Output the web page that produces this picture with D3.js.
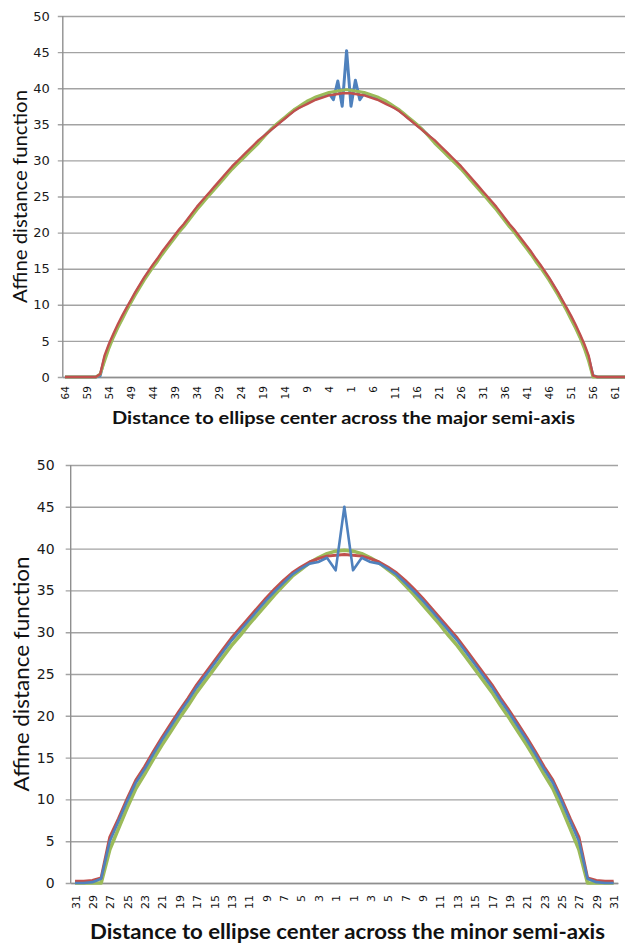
<!DOCTYPE html>
<html>
<head>
<meta charset="utf-8">
<script src="https://cdn.jsdelivr.net/npm/d3@7"></script>
<style>
  body { margin: 0; background: #fff; }
  svg { display: block; }
</style>
</head>
<body>
<script>
// Categories: distance to center, left half then right half
const majorCategories = [64,63,62,61,60,59,58,57,56,55,54,53,52,51,50,49,48,47,46,45,44,43,42,41,40,39,38,37,36,35,34,33,32,31,30,29,28,27,26,25,24,23,22,21,20,19,18,17,16,15,14,13,12,11,10,9,8,7,6,5,4,3,2,1,
  0,
  1,2,3,4,5,6,7,8,9,10,11,12,13,14,15,16,17,18,19,20,21,22,23,24,25,26,27,28,29,30,31,32,33,34,35,36,37,38,39,40,41,42,43,44,45,46,47,48,49,50,51,52,53,54,55,56,57,58,59,60,61,62,63,64];

const majorGreen = [0,0,0,0,0,0,0,0,
  0.4,2.2,4.0,5.5,6.8,8.0,9.2,10.3,11.4,12.4,13.4,14.3,15.2,16.0,16.9,17.7,18.5,19.3,20.1,20.8,21.6,22.4,23.2,23.9,24.6,25.3,26.0,26.7,27.4,28.1,28.8,29.4,30.0,30.6,31.2,31.8,32.4,33.1,33.8,34.4,35.0,35.5,36.0,36.5,37.0,37.4,37.8,38.2,38.5,38.8,39.0,39.2,39.4,39.5,39.6,39.7,
  39.8,
  39.7,39.6,39.5,39.4,39.2,39.0,38.8,38.5,38.2,37.8,37.4,37.0,36.5,36.0,35.5,35.0,34.4,33.8,33.1,32.4,31.8,31.2,30.6,30.0,29.4,28.8,28.1,27.4,26.7,26.0,25.3,24.6,23.9,23.2,22.4,21.6,20.8,20.1,19.3,18.5,17.7,16.9,16.0,15.2,14.3,13.4,12.4,11.4,10.3,9.2,8.0,6.8,5.5,4.0,2.2,0.0,
  0,0,0,0,0,0,0,0];

const majorRed = [0,0,0,0,0,0,0,0,
  0.4,3.0,4.6,6.0,7.3,8.5,9.6,10.7,11.8,12.8,13.8,14.7,15.6,16.4,17.3,18.1,18.9,19.7,20.5,21.2,22.0,22.8,23.6,24.3,25.0,25.7,26.4,27.1,27.8,28.5,29.2,29.8,30.4,31.0,31.6,32.2,32.8,33.3,33.8,34.3,34.8,35.3,35.8,36.3,36.8,37.2,37.5,37.8,38.1,38.4,38.6,38.8,39.0,39.1,39.2,39.3,
  39.3,
  39.3,39.2,39.1,39.0,38.8,38.6,38.4,38.1,37.8,37.5,37.2,36.8,36.3,35.8,35.3,34.8,34.3,33.8,33.3,32.8,32.2,31.6,31.0,30.4,29.8,29.2,28.5,27.8,27.1,26.4,25.7,25.0,24.3,23.6,22.8,22.0,21.2,20.5,19.7,18.9,18.1,17.3,16.4,15.6,14.7,13.8,12.8,11.8,10.7,9.6,8.5,7.3,6.0,4.6,3.0,0.2,
  0,0,0,0,0,0,0,0];

const majorBlue = [0,0,0,0,0,0,0,0,
  0.2,2.6,4.3,5.7,7.0,8.2,9.4,10.5,11.6,12.6,13.6,14.5,15.4,16.2,17.1,17.9,18.7,19.5,20.3,21.0,21.8,22.6,23.4,24.1,24.8,25.5,26.2,26.9,27.6,28.3,29.0,29.6,30.2,30.8,31.4,32.0,32.6,33.2,33.8,34.4,34.9,35.4,35.9,36.4,36.9,37.3,37.6,38.0,38.3,38.6,38.8,39.0,39.3,38.4,41.0,37.5,
  45.2,
  37.5,41.1,38.4,39.3,39.0,38.8,38.6,38.3,38.0,37.6,37.3,36.9,36.4,35.9,35.4,34.9,34.4,33.8,33.2,32.6,32.0,31.4,30.8,30.2,29.6,29.0,28.3,27.6,26.9,26.2,25.5,24.8,24.1,23.4,22.6,21.8,21.0,20.3,19.5,18.7,17.9,17.1,16.2,15.4,14.5,13.6,12.6,11.6,10.5,9.4,8.2,7.0,5.7,4.3,2.6,0.2,
  0,0,0,0,0,0,0,0];

const minorCategories = [31,30,29,28,27,26,25,24,23,22,21,20,19,18,17,16,15,14,13,12,11,10,9,8,7,6,5,4,3,2,1,
  0,
  1,2,3,4,5,6,7,8,9,10,11,12,13,14,15,16,17,18,19,20,21,22,23,24,25,26,27,28,29,30,31];

const minorGreen = [0,0,0,0,4.0,6.5,9.0,11.3,13.0,14.8,16.5,18.1,19.7,21.2,22.8,24.2,25.6,27.0,28.4,29.6,30.9,32.1,33.3,34.5,35.6,36.7,37.5,38.3,38.9,39.4,39.7,
  39.8,
  39.7,39.4,38.9,38.3,37.5,36.7,35.6,34.5,33.3,32.1,30.9,29.6,28.4,27.0,25.6,24.2,22.8,21.2,19.7,18.1,16.5,14.8,13.0,11.3,9.0,6.5,4.0,0,0,0,0];

const minorRed = [0.2,0.2,0.3,0.6,5.5,7.7,10.1,12.3,13.9,15.7,17.4,19.0,20.6,22.1,23.7,25.1,26.5,27.9,29.3,30.5,31.7,32.9,34.1,35.2,36.2,37.1,37.8,38.4,38.8,39.1,39.2,
  39.3,
  39.2,39.1,38.8,38.4,37.8,37.1,36.2,35.2,34.1,32.9,31.7,30.5,29.3,27.9,26.5,25.1,23.7,22.1,20.6,19.0,17.4,15.7,13.9,12.3,10.1,7.7,5.5,0.6,0.3,0.2,0.2];

const minorBlue = [0,0,0.1,0.5,5.0,7.4,9.8,12.0,13.6,15.4,17.1,18.7,20.3,21.8,23.4,24.8,26.2,27.6,29.0,30.2,31.4,32.6,33.8,34.9,35.9,36.9,37.6,38.2,38.4,38.9,37.4,
  45.0,
  37.4,38.9,38.4,38.2,37.6,36.9,35.9,34.9,33.8,32.6,31.4,30.2,29.0,27.6,26.2,24.8,23.4,21.8,20.3,18.7,17.1,15.4,13.6,12.0,9.8,7.4,5.0,0.5,0.1,0,0];

const yTicks = [0,5,10,15,20,25,30,35,40,45,50];
const yTitle = "Affine distance function";

const width = 625, height = 946;

const svg = d3.select("body").append("svg")
    .attr("width", width)
    .attr("height", height);

const drawPanel = (p) => {
    const g = svg.append("g");

    const x = d3.scalePoint()
        .domain(p.categories.map((d, i) => i))
        .range([p.left, p.right])
        .padding(0.5);
    const y = d3.scaleLinear()
        .domain([0, 50])
        .range([p.bottom, p.top]);

    // gridlines + y labels
    const yAxis = g.append("g")
        .attr("transform", `translate(${p.left},0)`)
        .call(d3.axisLeft(y).tickValues(yTicks).tickSize(-(p.right - p.left)).tickSizeOuter(0).tickPadding(p.yPad));
    yAxis.select(".domain").remove();
    yAxis.selectAll(".tick line").attr("stroke", "#a3a3a3").attr("stroke-width", 1.4).attr("x1", -5);
    yAxis.selectAll(".tick text")
        .attr("font-family", "DejaVu Sans, Verdana, sans-serif")
        .attr("font-size", p.yFont)
        .attr("fill", "#1a1a1a");

    // axis lines
    g.append("line")
        .attr("x1", p.left).attr("x2", p.left)
        .attr("y1", p.top).attr("y2", p.bottom)
        .attr("stroke", "#8f8f8f").attr("stroke-width", 1.4);

    // x labels
    const xAxis = g.append("g")
        .attr("transform", `translate(0,${p.bottom})`)
        .call(d3.axisBottom(x)
            .tickValues(p.categories.map((d, i) => i).filter(i => i % p.every === 0))
            .tickFormat(i => p.categories[i])
            .tickSize(0));
    xAxis.select(".domain").attr("stroke", "#8f8f8f").attr("stroke-width", 1.4);
    xAxis.selectAll(".tick text")
        .attr("font-family", "DejaVu Sans, Verdana, sans-serif")
        .attr("font-size", p.xFont)
        .attr("fill", "#111")
        .attr("transform", "rotate(-90)")
        .attr("text-anchor", "end")
        .attr("x", -p.xPad)
        .attr("y", 0)
        .attr("dy", "0.36em");

    // series
    const line = d3.line()
        .x((d, i) => x(i))
        .y(d => y(d));
    p.series.forEach(s => {
        g.append("path")
            .datum(s.values)
            .attr("fill", "none")
            .attr("stroke", s.color)
            .attr("stroke-width", s.width)
            .attr("stroke-linejoin", "round")
            .attr("d", line);
    });

    // titles
    g.append("text")
        .attr("transform", `translate(${p.yTitleX},${(p.top + p.bottom) / 2}) rotate(-90)`)
        .attr("text-anchor", "middle")
        .attr("font-family", "Lato, sans-serif")
        .attr("font-size", p.yTitleFont)
        .attr("textLength", p.yTitleLen)
        .attr("lengthAdjust", "spacingAndGlyphs")
        .attr("fill", "#111")
        .text(yTitle);
    g.append("text")
        .attr("x", p.xTitleX)
        .attr("y", p.xTitleY)
        .attr("font-family", "Lato, sans-serif")
        .attr("font-weight", "bold")
        .attr("font-size", p.xTitleFont)
        .attr("textLength", p.xTitleLen)
        .attr("lengthAdjust", "spacingAndGlyphs")
        .attr("fill", "#111")
        .text(p.xTitle);
};

drawPanel({
    categories: majorCategories, every: 5,
    left: 62.8, right: 630.4, top: 16, bottom: 377,
    yPad: 13, yFont: 13, xFont: 10.5, xPad: 9,
    yTitleX: 27, yTitleFont: 20, yTitleLen: 213,
    xTitle: "Distance to ellipse center across the major semi-axis",
    xTitleX: 112, xTitleY: 424, xTitleFont: 16.5, xTitleLen: 463,
    series: [
        { values: majorBlue, color: "#4f81bd", width: 3 },
        { values: majorGreen, color: "#9bbb59", width: 3 },
        { values: majorRed, color: "#c0504d", width: 2.4 }
    ]
});

drawPanel({
    categories: minorCategories, every: 2,
    left: 70.7, right: 618, top: 465, bottom: 883,
    yPad: 16, yFont: 14, xFont: 11, xPad: 12,
    yTitleX: 29, yTitleFont: 22, yTitleLen: 235,
    xTitle: "Distance to ellipse center across the minor semi-axis",
    xTitleX: 90, xTitleY: 939, xTitleFont: 20, xTitleLen: 515,
    series: [
        { values: minorGreen, color: "#9bbb59", width: 3.6 },
        { values: minorRed, color: "#c0504d", width: 3 },
        { values: minorBlue, color: "#4f81bd", width: 2.6 }
    ]
});
</script>
</body>
</html>
